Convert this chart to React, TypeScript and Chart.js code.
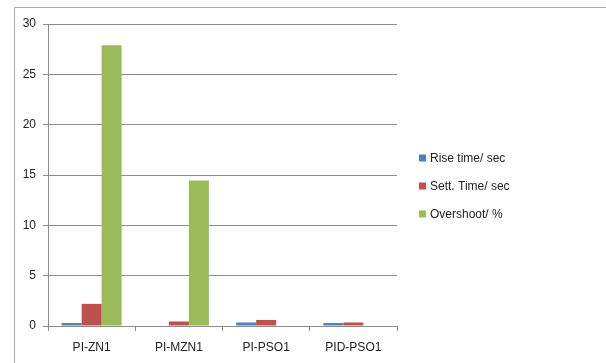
import React, { useEffect, useRef } from "react";
import { Chart, registerables } from "chart.js";

Chart.register(...registerables);

const categories = ["PI-ZN1", "PI-MZN1", "PI-PSO1", "PID-PSO1"];
const riseTime = [0.3, 0, 0.35, 0.3];
const settTime = [2.2, 0.45, 0.6, 0.35];
const overshoot = [27.9, 14.45, 0, 0];
const seriesNames = ["Rise time/ sec", "Sett. Time/ sec", "Overshoot/ %"];
const seriesColors = ["#4F81BD", "#C0504D", "#9BBB59"];

const FONT = "'Liberation Sans', Arial, sans-serif";

const framePlugin = {
  id: "frame",
  beforeDraw(chart: any) {
    const ctx = chart.ctx;
    ctx.save();
    ctx.fillStyle = "#ffffff";
    ctx.fillRect(0, 0, chart.width, chart.height);
    ctx.strokeStyle = "#a6a6a6";
    ctx.lineWidth = 1;
    ctx.beginPath();
    ctx.moveTo(14.5, chart.height + 5);
    ctx.lineTo(14.5, 7.5);
    ctx.lineTo(chart.width + 5, 7.5);
    ctx.stroke();
    ctx.restore();
  },
};

const legendPlugin = {
  id: "customLegend",
  afterDraw(chart: any) {
    const ctx = chart.ctx;
    ctx.save();
    ctx.font = `12px ${FONT}`;
    ctx.textBaseline = "middle";
    ctx.textAlign = "left";
    chart.data.datasets.forEach((ds: any, i: number) => {
      const y = 158 + i * 28;
      ctx.fillStyle = ds.backgroundColor;
      ctx.fillRect(419, y - 3.5, 7, 7);
      ctx.fillStyle = "#222222";
      ctx.fillText(ds.label, 430, y + 0.5);
    });
    ctx.restore();
  },
};

export default function App() {
  const ref = useRef<HTMLCanvasElement>(null);
  useEffect(() => {
    if (!ref.current) return;
    const data = [riseTime, settTime, overshoot];
    const chart = new Chart(ref.current, {
      type: "bar",
      data: {
        labels: categories,
        datasets: data.map((d, i) => ({
          label: seriesNames[i],
          data: d,
          backgroundColor: seriesColors[i],
          borderWidth: 0,
          barPercentage: 1,
          categoryPercentage: 0.688,
        })),
      },
      options: {
        animation: false,
        responsive: false,
        maintainAspectRatio: false,
        devicePixelRatio: 1,
        layout: { padding: { left: 0, right: 209, top: 24, bottom: 0 } },
        plugins: { legend: { display: false }, tooltip: { enabled: false } },
        scales: {
          x: {
            afterFit(scale: any) {
              scale.height = 37;
            },
            grid: {
              display: true,
              drawOnChartArea: false,
              drawTicks: true,
              tickLength: 5,
              color: "#8c8c8c",
              offset: true,
            },
            border: { display: true, color: "#8c8c8c" },
            ticks: {
              padding: 9,
              color: "#222222",
              font: { family: FONT, size: 12 },
              maxRotation: 0,
            },
          },
          y: {
            min: 0,
            max: 30,
            afterFit(scale: any) {
              scale.width = 48;
            },
            grid: {
              color: "#8c8c8c",
              tickLength: 5,
              drawTicks: true,
            },
            border: { display: true, color: "#8c8c8c" },
            ticks: {
              stepSize: 5,
              padding: 7,
              color: "#222222",
              font: { family: FONT, size: 12 },
            },
          },
        },
      },
      plugins: [framePlugin, legendPlugin],
    });
    return () => chart.destroy();
  }, []);
  return (
    <div style={{ position: "fixed", left: 0, top: 0, width: 606, height: 363 }}>
      <canvas ref={ref} width={606} height={363} style={{ width: 606, height: 363 }} />
    </div>
  );
}
